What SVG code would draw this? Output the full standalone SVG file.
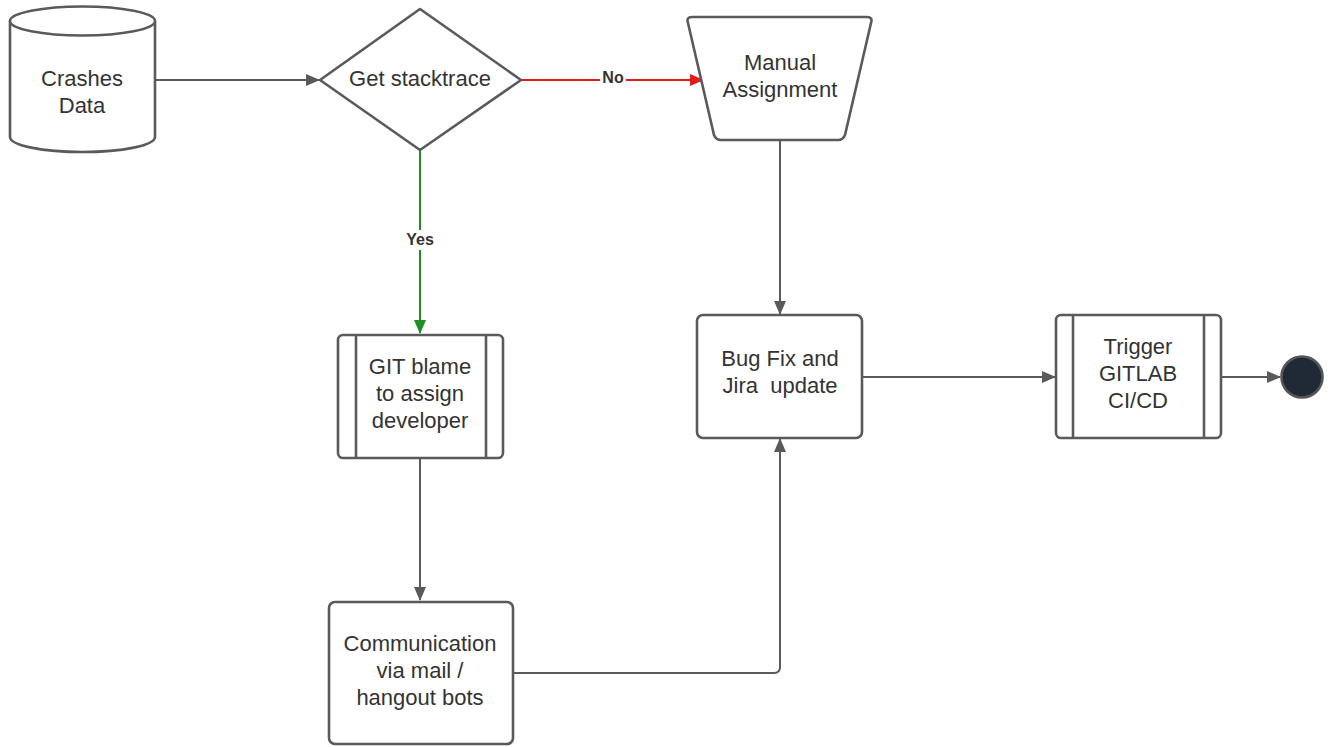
<svg xmlns="http://www.w3.org/2000/svg" width="1331" height="747" viewBox="0 0 1331 747">
<style>
.shape{fill:#fff;stroke:#5a5a5a;stroke-width:2.6;stroke-linejoin:round}
.lbl{font-family:"Liberation Sans",Arial,sans-serif;font-size:22px;fill:#333;text-anchor:middle}
.elbl{font-family:"Liberation Sans",Arial,sans-serif;font-size:16px;font-weight:bold;fill:#333;text-anchor:middle}
.conn{fill:none;stroke:#5a5a5a;stroke-width:2}
</style>
<defs>
<marker id="ag" markerWidth="14" markerHeight="12" refX="13" refY="6" orient="auto" markerUnits="userSpaceOnUse"><path d="M0,0 L14,6 L0,12 Z" fill="#5a5a5a"/></marker>
<marker id="ar" markerWidth="14" markerHeight="12" refX="13" refY="6" orient="auto" markerUnits="userSpaceOnUse"><path d="M0,0 L14,6 L0,12 Z" fill="#e31b1b"/></marker>
<marker id="agr" markerWidth="14" markerHeight="12" refX="13" refY="6" orient="auto" markerUnits="userSpaceOnUse"><path d="M0,0 L14,6 L0,12 Z" fill="#1e8f22"/></marker>
</defs>
<rect width="1331" height="747" fill="#fff"/>
<g id="connectors">
<path class="conn" d="M155,80 H319" marker-end="url(#ag)"/>
<path class="conn" d="M522,80 H703" style="stroke:#e31b1b" marker-end="url(#ar)"/>
<rect x="600" y="70" width="26" height="18" fill="#fff"/>
<text class="elbl" x="613" y="83">No</text>
<path class="conn" d="M420,150 V333" style="stroke:#1e8f22" marker-end="url(#agr)"/>
<rect x="403" y="230" width="34" height="20" fill="#fff"/>
<text class="elbl" x="420" y="245">Yes</text>
<path class="conn" d="M780,141 V314" marker-end="url(#ag)"/>
<path class="conn" d="M420,459 V600" marker-end="url(#ag)"/>
<path class="conn" d="M514,673 H774 Q780,673 780,667 V439" marker-end="url(#ag)"/>
<path class="conn" d="M863,377 H1055" marker-end="url(#ag)"/>
<path class="conn" d="M1221,377 H1280" marker-end="url(#ag)"/>
</g>
<g id="crashes-data">
<path class="shape" d="M10,21 A72.5,14.5 0 0 1 155,21 V137 A72.5,15 0 0 1 10,137 Z"/>
<path class="shape" d="M10,21 A72.5,14.5 0 0 0 155,21" fill="none"/>
<text class="lbl" x="82" y="86">Crashes</text>
<text class="lbl" x="82" y="113">Data</text>
</g>
<g id="get-stacktrace">
<path class="shape" d="M420,9 L521,80 L420,150 L320,80 Z"/>
<text class="lbl" x="420" y="86">Get stacktrace</text>
</g>
<g id="manual-assignment">
<path class="shape" d="M692,17 H867 Q873,17 871,23 L845,135 Q843,140 838,140 H721 Q716,140 714,135 L688,23 Q686,17 692,17 Z"/>
<text class="lbl" x="780" y="70">Manual</text>
<text class="lbl" x="780" y="97">Assignment</text>
</g>
<g id="git-blame">
<rect class="shape" x="338" y="335" width="165" height="123" rx="5"/>
<line class="shape" x1="356" y1="335" x2="356" y2="458"/>
<line class="shape" x1="486" y1="335" x2="486" y2="458"/>
<text class="lbl" x="420" y="374">GIT blame</text>
<text class="lbl" x="420" y="401">to assign</text>
<text class="lbl" x="420" y="428">developer</text>
</g>
<g id="bug-fix">
<rect class="shape" x="697" y="315" width="165" height="123" rx="6"/>
<text class="lbl" x="780" y="366">Bug Fix and</text>
<text class="lbl" x="780" y="393" xml:space="preserve">Jira  update</text>
</g>
<g id="trigger-gitlab">
<rect class="shape" x="1056" y="315" width="165" height="123" rx="5"/>
<line class="shape" x1="1073" y1="315" x2="1073" y2="438"/>
<line class="shape" x1="1204" y1="315" x2="1204" y2="438"/>
<text class="lbl" x="1138" y="354">Trigger</text>
<text class="lbl" x="1138" y="381">GITLAB</text>
<text class="lbl" x="1138" y="408">CI/CD</text>
</g>
<g id="end">
<circle cx="1302" cy="377" r="20.5" fill="#1f2a36" stroke="#555" stroke-width="2.6"/>
</g>
<g id="communication">
<rect class="shape" x="329" y="602" width="184" height="142" rx="6"/>
<text class="lbl" x="420" y="651">Communication</text>
<text class="lbl" x="420" y="678">via mail /</text>
<text class="lbl" x="420" y="705">hangout bots</text>
</g>
</svg>
